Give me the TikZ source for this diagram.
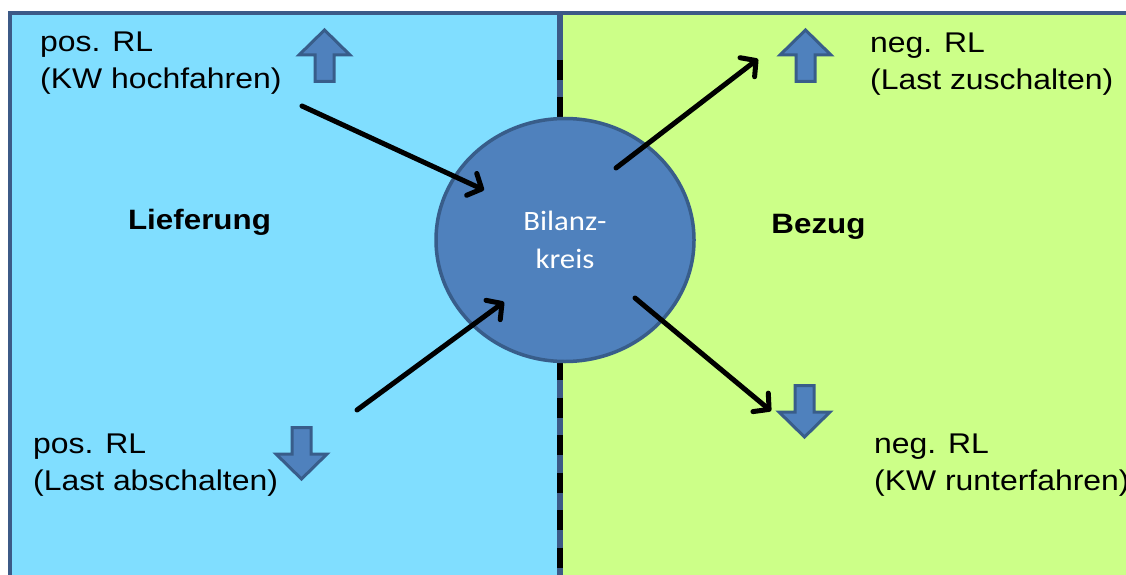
\documentclass[tikz,border=0pt]{standalone}
\usepackage{fontspec}
\setmainfont{Liberation Sans}[FakeStretch=1.12]
\newfontfamily\calibfont{Carlito}[FakeStretch=1.1]
\usetikzlibrary{arrows.meta,shapes.geometric}
\definecolor{leftfill}{RGB}{128,222,255}
\definecolor{rightfill}{RGB}{204,255,136}
\definecolor{circfill}{RGB}{79,129,189}
\definecolor{circline}{RGB}{56,93,138}
\definecolor{frameline}{RGB}{60,90,135}
\begin{document}
\begin{tikzpicture}[x=1pt,y=-1pt,
  panel/.style={draw=frameline,line width=4pt},
  lbl/.style={anchor=base west,inner sep=0pt,align=left,font=\fontsize{28.5}{37}\selectfont},
  headlbl/.style={anchor=base,inner sep=0pt,font=\fontsize{28}{34}\selectfont\bfseries},
  flow/.style={line width=5pt,line cap=round,-{Straight Barb[length=11pt,width=24pt,round]}},
  blockshape/.style={fill=circfill,draw=circline,line width=3pt,line join=miter},
  uparrowpic/.pic={\path[blockshape] (0,3) -- (25.5,28) -- (9.5,28) -- (9.5,54.5) -- (-9.5,54.5) -- (-9.5,28) -- (-25.5,28) -- cycle;},
  downarrowpic/.pic={\path[blockshape] (0,53) -- (25.5,28) -- (9.5,28) -- (9.5,1.5) -- (-9.5,1.5) -- (-9.5,28) -- (-25.5,28) -- cycle;},
]
\useasboundingbox (0,0) rectangle (1126,575);
\fill[white] (0,0) rectangle (1126,575);
% panels
\path[fill=leftfill] (9.5,13) rectangle (560,590);
\path[fill=rightfill] (560,13) rectangle (1140,590);
\draw[panel] (9.5,590) -- (9.5,13) -- (1140,13);
% divider
\draw[line width=6pt,draw=frameline] (560,13) -- (560,590);
\draw[line width=5.5pt,black,dash pattern=on 20pt off 17.5pt] (560,60) -- (560,590);
% circle
\node[ellipse,fill=circfill,draw=circline,line width=3.5pt,minimum width=258pt,minimum height=243pt,inner sep=0pt] (bk) at (565,240) {};
\node[text=white,align=center,inner sep=0pt,font=\calibfont\fontsize{28}{38}\selectfont] (bktext) at (565,240) {Bilanz-\\kreis};
% labels (base = baseline of the last line)
\node[lbl] (tl) at (40,89) {pos. RL\\(KW hochfahren)};
\node[lbl] (tr) at (870,90) {neg. RL\\(Last zuschalten)};
\node[lbl] (bl) at (33,490) {pos. RL\\(Last abschalten)};
\node[lbl] (br) at (874,490) {neg. RL\\(KW runterfahren)};
\node[headlbl] (lief) at (199.5,229) {Lieferung};
\node[headlbl] (bez) at (818.5,233) {Bezug};
% block arrows
\pic at (324.5,27) {uparrowpic};
\pic at (805.5,27) {uparrowpic};
\pic at (301.5,426) {downarrowpic};
\pic at (804.5,384) {downarrowpic};
% flow arrows
\coordinate (a1s) at (302,106); \coordinate (a1e) at (484,190);
\coordinate (a2s) at (357,410); \coordinate (a2e) at (504,302);
\coordinate (a3s) at (616,168); \coordinate (a3e) at (758,59);
\coordinate (a4s) at (635,298); \coordinate (a4e) at (771,411);
\draw[flow] (a1s) -- (a1e);
\draw[flow] (a2s) -- (a2e);
\draw[flow] (a3s) -- (a3e);
\draw[flow] (a4s) -- (a4e);
\end{tikzpicture}
\end{document}
